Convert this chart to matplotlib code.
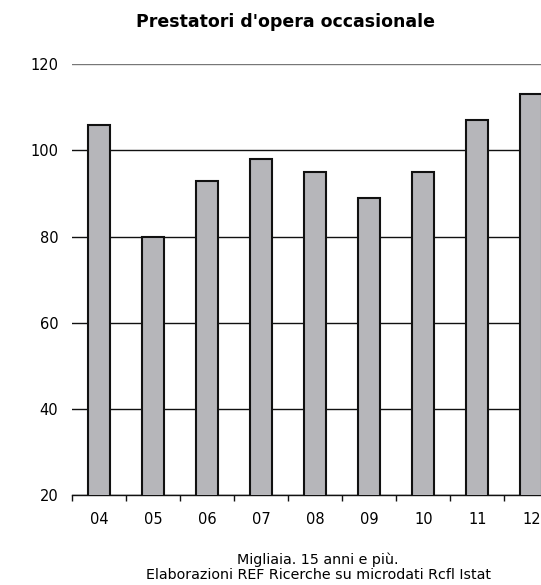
import matplotlib
matplotlib.use('Agg')
import matplotlib.pyplot as plt
import numpy as np

years = ['04', '05', '06', '07', '08', '09', '10', '11', '12']
values = [106, 80, 93, 98, 95, 89, 95, 107, 113]
y_ticks = [20, 40, 60, 80, 100, 120]

plt.rcParams['font.family'] = ['DejaVu Sans']

fig = plt.figure(figsize=(5.41, 5.85), dpi=100)
ax = fig.add_axes([0.1336, 0.1538, 0.8664, 0.7363])

x = np.arange(len(years))
ax.bar(x, values, width=0.41, color='#b6b6ba', edgecolor='#111111',
       linewidth=1.5, zorder=3)

ax.set_yticks(y_ticks)
ax.set_yticklabels([str(v) for v in y_ticks], fontsize=10.5)
ax.tick_params(axis='y', length=0, pad=10)

# boundaries carry the tick marks, centres carry the labels
ax.set_xticks(np.arange(-0.5, len(years), 1.0))
ax.set_xticklabels([])
ax.tick_params(axis='x', which='major', length=4, width=1, direction='out',
               color='#111111')
ax.set_xticks(x, minor=True)
ax.set_xticklabels(years, minor=True, fontsize=10.5)
ax.tick_params(axis='x', which='minor', length=0, pad=12)

# set limits after the ticks, set_xticks widens the view
ax.set_ylim(20, 120)
ax.set_xlim(-0.5, 8.18)

ax.yaxis.grid(True, color='#111111', linewidth=1.0, zorder=0)
gl = ax.get_ygridlines()
gl[-1].set_color('#777777')

for s in ['top', 'right', 'left']:
    ax.spines[s].set_visible(False)
ax.spines['bottom'].set_color('#111111')
ax.spines['bottom'].set_linewidth(1.0)

fig.text(285 / 541, 1 - 27 / 585, "Prestatori d'opera occasionale",
         ha='center', va='baseline', fontsize=12.5, fontweight='bold')
fig.text(318 / 541, 1 - 564 / 585, 'Migliaia. 15 anni e più.',
         ha='center', va='baseline', fontsize=10.3)
fig.text(318 / 541, 1 - 579 / 585,
         'Elaborazioni REF Ricerche su microdati Rcfl Istat',
         ha='center', va='baseline', fontsize=10.3)

fig.savefig('out.png', dpi=100)
